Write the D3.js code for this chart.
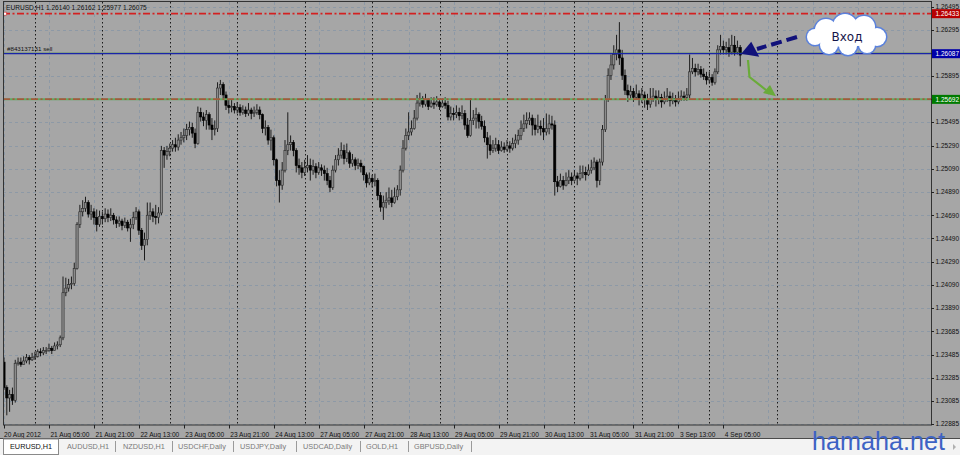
<!DOCTYPE html>
<html><head><meta charset="utf-8">
<script src="https://cdn.jsdelivr.net/npm/d3@7"></script>
<style>
html,body{margin:0;padding:0;background:#f0f0f0;overflow:hidden;}
svg{display:block;font-family:"Liberation Sans",Arial,sans-serif;}
</style>
</head><body>
<svg id="c" width="960" height="455"></svg>
<script>
// ---------------- data ----------------
const symbolName = "EURUSD,H1";
const headerValues = ["1.26140", "1.26162", "1.25977", "1.26075"];
const firstOpen = 1.2342;
const closes = [
1.2320,1.2311,1.2314,1.2309,1.2341,1.2342,1.2340,1.2343,1.2346,1.2344,
1.2346,1.2347,1.2351,1.2350,1.2352,1.2352,1.2354,1.2352,1.2356,1.2357,
1.2363,1.2402,1.2406,1.2409,1.2410,1.2423,1.2461,1.2472,1.2475,1.2480,
1.2470,1.2472,1.2467,1.2461,1.2468,1.2466,1.2470,1.2467,1.2469,1.2465,
1.2462,1.2464,1.2460,1.2463,1.2458,1.2461,1.2467,1.2472,1.2456,1.2443,
1.2448,1.2469,1.2472,1.2468,1.2467,1.2471,1.2525,1.2521,1.2524,1.2527,
1.2530,1.2528,1.2534,1.2536,1.2538,1.2543,1.2545,1.2540,1.2531,1.2558,
1.2554,1.2551,1.2556,1.2547,1.2543,1.2544,1.2579,1.2582,1.2573,1.2564,
1.2562,1.2563,1.2560,1.2562,1.2558,1.2560,1.2557,1.2560,1.2557,1.2558,
1.2560,1.2556,1.2544,1.2545,1.2534,1.2536,1.2517,1.2499,1.2495,1.2508,
1.2525,1.2530,1.2532,1.2525,1.2512,1.2510,1.2506,1.2510,1.2512,1.2508,
1.2511,1.2506,1.2510,1.2508,1.2505,1.2499,1.2493,1.2508,1.2517,1.2521,
1.2525,1.2518,1.2523,1.2514,1.2517,1.2512,1.2514,1.2511,1.2504,1.2497,
1.2501,1.2498,1.2499,1.2486,1.2476,1.2480,1.2482,1.2484,1.2480,1.2485,
1.2491,1.2508,1.2527,1.2538,1.2541,1.2544,1.2553,1.2566,1.2570,1.2565,
1.2569,1.2563,1.2566,1.2565,1.2567,1.2563,1.2566,1.2564,1.2554,1.2557,
1.2556,1.2558,1.2555,1.2557,1.2547,1.2538,1.2551,1.2553,1.2556,1.2550,
1.2546,1.2536,1.2530,1.2525,1.2527,1.2530,1.2525,1.2528,1.2526,1.2529,
1.2527,1.2531,1.2534,1.2538,1.2544,1.2548,1.2551,1.2553,1.2547,1.2543,
1.2546,1.2544,1.2541,1.2544,1.2548,1.2547,1.2498,1.2494,1.2499,1.2495,
1.2499,1.2502,1.2499,1.2503,1.2501,1.2505,1.2506,1.2504,1.2508,1.2510,
1.2515,1.2499,1.2515,1.2543,1.2569,1.2590,1.2599,1.2608,1.2612,1.2605,
1.2590,1.2577,1.2573,1.2576,1.2571,1.2574,1.2569,1.2573,1.2569,1.2565,
1.2570,1.2572,1.2569,1.2571,1.2567,1.2570,1.2572,1.2568,1.2570,1.2567,
1.2570,1.2572,1.2571,1.2573,1.2593,1.2596,1.2593,1.2595,1.2591,1.2589,
1.2586,1.2588,1.2584,1.2593,1.2612,1.2615,1.2612,1.2614,1.2610,1.2616,
1.2610,1.2614,1.26075];
const highs = [
1.2346,1.2322,1.2318,1.2320,1.2344,1.2346,1.2346,1.2347,1.2349,1.2348,
1.2350,1.2351,1.2353,1.2354,1.2355,1.2355,1.2358,1.2356,1.2359,1.2360,
1.2365,1.2416,1.2415,1.2414,1.2416,1.2428,1.2463,1.2478,1.2482,1.2485,
1.2482,1.2478,1.2475,1.2474,1.2473,1.2472,1.2475,1.2474,1.2475,1.2471,
1.2468,1.2468,1.2466,1.2467,1.2465,1.2466,1.2472,1.2476,1.2474,1.2458,
1.2454,1.2480,1.2480,1.2475,1.2478,1.2476,1.2529,1.2528,1.2529,1.2531,
1.2534,1.2536,1.2539,1.2541,1.2544,1.2548,1.2550,1.2549,1.2544,1.2563,
1.2562,1.2558,1.2560,1.2558,1.2553,1.2551,1.2584,1.2586,1.2584,1.2576,
1.2569,1.2569,1.2566,1.2567,1.2565,1.2564,1.2563,1.2566,1.2562,1.2563,
1.2565,1.2563,1.2557,1.2551,1.2547,1.2543,1.2538,1.2518,1.2508,1.2515,
1.2534,1.2558,1.2538,1.2534,1.2527,1.2518,1.2515,1.2517,1.2521,1.2518,
1.2517,1.2514,1.2515,1.2513,1.2512,1.2510,1.2503,1.2512,1.2521,1.2527,
1.2532,1.2530,1.2531,1.2525,1.2522,1.2519,1.2518,1.2517,1.2512,1.2506,
1.2506,1.2504,1.2505,1.2501,1.2489,1.2486,1.2489,1.2493,1.2491,1.2493,
1.2495,1.2512,1.2534,1.2544,1.2558,1.2551,1.2560,1.2573,1.2575,1.2572,
1.2574,1.2570,1.2571,1.2571,1.2572,1.2569,1.2570,1.2571,1.2568,1.2563,
1.2562,1.2564,1.2562,1.2564,1.2560,1.2553,1.2570,1.2560,1.2562,1.2558,
1.2555,1.2551,1.2541,1.2538,1.2534,1.2536,1.2534,1.2533,1.2532,1.2534,
1.2533,1.2536,1.2539,1.2543,1.2551,1.2556,1.2558,1.2558,1.2556,1.2553,
1.2556,1.2551,1.2553,1.2557,1.2556,1.2555,1.2551,1.2503,1.2505,1.2503,
1.2506,1.2508,1.2506,1.2508,1.2506,1.2512,1.2512,1.2511,1.2513,1.2517,
1.2519,1.2517,1.2518,1.2547,1.2573,1.2596,1.2608,1.2616,1.2625,1.2636,
1.2612,1.2595,1.2582,1.2581,1.2579,1.2582,1.2577,1.2579,1.2576,1.2574,
1.2579,1.2579,1.2577,1.2577,1.2574,1.2576,1.2579,1.2576,1.2575,1.2573,
1.2576,1.2577,1.2576,1.2579,1.2608,1.2605,1.2600,1.2600,1.2598,1.2596,
1.2593,1.2593,1.2591,1.2596,1.2616,1.2625,1.2620,1.2619,1.2622,1.2625,
1.2624,1.2620,1.26162];
const lows = [
1.2318,1.2296,1.2299,1.2305,1.2307,1.2339,1.2338,1.2340,1.2341,1.2340,
1.2343,1.2344,1.2346,1.2347,1.2348,1.2349,1.2351,1.2349,1.2352,1.2353,
1.2355,1.2361,1.2399,1.2403,1.2405,1.2408,1.2422,1.2458,1.2468,1.2472,
1.2467,1.2465,1.2461,1.2455,1.2459,1.2461,1.2463,1.2463,1.2464,1.2461,
1.2458,1.2459,1.2456,1.2458,1.2455,1.2446,1.2457,1.2465,1.2452,1.2439,
1.2430,1.2443,1.2465,1.2463,1.2461,1.2462,1.2469,1.2510,1.2517,1.2520,
1.2524,1.2524,1.2525,1.2530,1.2532,1.2534,1.2538,1.2536,1.2527,1.2530,
1.2550,1.2546,1.2543,1.2543,1.2534,1.2538,1.2541,1.2573,1.2569,1.2560,
1.2557,1.2558,1.2557,1.2557,1.2555,1.2556,1.2554,1.2555,1.2552,1.2554,
1.2556,1.2552,1.2540,1.2538,1.2530,1.2525,1.2512,1.2494,1.2480,1.2491,
1.2506,1.2521,1.2525,1.2520,1.2506,1.2504,1.2501,1.2503,1.2506,1.2499,
1.2504,1.2501,1.2504,1.2503,1.2499,1.2495,1.2489,1.2491,1.2506,1.2512,
1.2518,1.2513,1.2515,1.2510,1.2511,1.2508,1.2509,1.2506,1.2499,1.2493,
1.2495,1.2493,1.2494,1.2482,1.2472,1.2465,1.2475,1.2478,1.2476,1.2479,
1.2482,1.2486,1.2506,1.2525,1.2534,1.2538,1.2543,1.2551,1.2563,1.2562,
1.2563,1.2560,1.2562,1.2561,1.2563,1.2560,1.2562,1.2561,1.2551,1.2551,
1.2551,1.2553,1.2551,1.2552,1.2543,1.2536,1.2537,1.2547,1.2544,1.2544,
1.2543,1.2532,1.2518,1.2521,1.2523,1.2524,1.2522,1.2524,1.2523,1.2524,
1.2523,1.2525,1.2527,1.2530,1.2534,1.2541,1.2544,1.2547,1.2538,1.2538,
1.2540,1.2538,1.2534,1.2538,1.2539,1.2543,1.2486,1.2489,1.2493,1.2491,
1.2494,1.2496,1.2495,1.2498,1.2495,1.2499,1.2501,1.2499,1.2503,1.2505,
1.2508,1.2493,1.2495,1.2512,1.2541,1.2567,1.2586,1.2595,1.2603,1.2599,
1.2586,1.2573,1.2567,1.2570,1.2567,1.2569,1.2564,1.2566,1.2562,1.2560,
1.2562,1.2567,1.2563,1.2565,1.2562,1.2565,1.2567,1.2563,1.2565,1.2563,
1.2565,1.2568,1.2568,1.2568,1.2570,1.2591,1.2589,1.2590,1.2588,1.2586,
1.2582,1.2583,1.2581,1.2582,1.2591,1.2608,1.2608,1.2608,1.2606,1.2608,
1.2607,1.2608,1.25977];
const timeLabels = ["20 Aug 2012","21 Aug 05:00","21 Aug 21:00","22 Aug 13:00","23 Aug 05:00",
  "23 Aug 21:00","24 Aug 13:00","27 Aug 05:00","27 Aug 21:00","28 Aug 13:00","29 Aug 05:00",
  "29 Aug 21:00","30 Aug 13:00","31 Aug 05:00","31 Aug 21:00","3 Sep 13:00","4 Sep 05:00"];
const labelBars = [0,16,32,48,64,80,96,112,128,144,160,176,192,208,224,240,256];
const gridBars = [0,16,32,48,64,80,96,112,128,144,160,176,192,208,224,240,256,272,288,304,320];
const daySeparatorBars = [11,35,59,83,107,131,155,179,203,227,251,275];
const priceTicks = [1.26495,1.26295,1.26095,1.25895,1.25695,1.25495,1.25290,1.25090,1.24890,
  1.24690,1.24490,1.24290,1.24090,1.23890,1.23685,1.23485,1.23285,1.23085,1.22885];
const stopLevel = 1.26433;
const entryLevel = 1.26087;
const takeLevel = 1.25692;
const orderText = "#843137131 sell";
const entryNote = "Вход";
const tabNames = ["EURUSD,H1","AUDUSD,H1","NZDUSD,H1","USDCHF,Daily","USDJPY,Daily","USDCAD,Daily","GOLD,H1","GBPUSD,Daily"];
const watermark = "hamaha.net";

// ---------------- layout ----------------
const W = 960, H = 455;
const plot = {l: 3, r: 931, t: 2, b: 425};
const BG = "#a6a6a6";
const svg = d3.select("#c");

const x = d3.scaleLinear().domain([0, 262]).range([4, 4 + 262 * 2.81]);
const y = d3.scaleLinear().domain([1.22885, 1.26495]).range([424, 6.5]);

svg.append("rect").attr("width", W).attr("height", H).attr("fill", "#f3f3f3");
svg.append("rect").attr("x", 0).attr("y", 0).attr("width", W).attr("height", 438).attr("fill", BG);

const clipId = "plotclip";
svg.append("clipPath").attr("id", clipId).append("rect")
  .attr("x", plot.l).attr("y", plot.t).attr("width", plot.r - plot.l).attr("height", plot.b - plot.t);
const g = svg.append("g").attr("clip-path", `url(#${clipId})`);

// grid: horizontal dashed
g.selectAll("line.hg").data(priceTicks).join("line")
  .attr("x1", plot.l).attr("x2", plot.r)
  .attr("y1", d => Math.round(y(d)) + 0.5).attr("y2", d => Math.round(y(d)) + 0.5)
  .attr("stroke", "#8d99a6").attr("stroke-width", 1).attr("stroke-dasharray", "3,3");
// grid: vertical dashed
g.selectAll("line.vg").data(gridBars).join("line")
  .attr("x1", d => Math.round(x(d)) + 0.5).attr("x2", d => Math.round(x(d)) + 0.5)
  .attr("y1", plot.t).attr("y2", plot.b)
  .attr("stroke", "#8d99a6").attr("stroke-width", 1).attr("stroke-dasharray", "3,3");
// period separators (dotted black)
g.selectAll("line.sep").data(daySeparatorBars).join("line")
  .attr("x1", d => Math.round(x(d)) + 0.5).attr("x2", d => Math.round(x(d)) + 0.5)
  .attr("y1", plot.t).attr("y2", plot.b)
  .attr("stroke", "#1a1a1a").attr("stroke-width", 1).attr("stroke-dasharray", "1.5,2.5");

// candles
const bars = closes.map((c, i) => {
  const o = i === 0 ? firstOpen : closes[i - 1];
  return {i, o, c, h: Math.max(highs[i], o, c), l: Math.min(lows[i], o, c)};
});
const cg = g.append("g");
cg.selectAll("line.wick").data(bars).join("line")
  .attr("x1", d => x(d.i)).attr("x2", d => x(d.i))
  .attr("y1", d => y(d.h)).attr("y2", d => y(d.l))
  .attr("stroke", "#1c1c1c").attr("stroke-width", 1);
cg.selectAll("rect.body").data(bars).join("rect")
  .attr("x", d => x(d.i) - 1.1).attr("width", 2.2)
  .attr("y", d => y(Math.max(d.o, d.c)))
  .attr("height", d => Math.max(0.8, Math.abs(y(d.o) - y(d.c))))
  .attr("fill", d => d.c < d.o ? "#000" : "#8c8c8c")
  .attr("stroke", d => d.c < d.o ? "#000" : "#2a2a2a")
  .attr("stroke-width", 0.6);

// stop (red dash-dot)
g.append("line").attr("x1", plot.l).attr("x2", plot.r)
  .attr("y1", y(stopLevel)).attr("y2", y(stopLevel))
  .attr("stroke", "#d42020").attr("stroke-width", 1.6).attr("stroke-dasharray", "7,2.5,2,2.5");
g.append("rect").attr("x", 3.5).attr("y", y(stopLevel) - 1.5).attr("width", 3).attr("height", 3)
  .attr("fill", "#fff").attr("stroke", "#d42020").attr("stroke-width", 0.6);
// entry (blue, thin green shadow)
g.append("line").attr("x1", plot.l).attr("x2", plot.r)
  .attr("y1", y(entryLevel) - 1).attr("y2", y(entryLevel) - 1)
  .attr("stroke", "#3c8a3c").attr("stroke-width", 0.6).attr("stroke-opacity", 0.6);
g.append("line").attr("x1", plot.l).attr("x2", plot.r)
  .attr("y1", y(entryLevel)).attr("y2", y(entryLevel))
  .attr("stroke", "#1a24a8").attr("stroke-width", 1.2);
// take profit (green + red dash-dot)
g.append("line").attr("x1", plot.l).attr("x2", plot.r)
  .attr("y1", y(takeLevel)).attr("y2", y(takeLevel))
  .attr("stroke", "#5fa85f").attr("stroke-width", 2);
g.append("line").attr("x1", plot.l).attr("x2", plot.r)
  .attr("y1", y(takeLevel) - 0.3).attr("y2", y(takeLevel) - 0.3)
  .attr("stroke", "#d42020").attr("stroke-width", 1).attr("stroke-dasharray", "7,2.5,2,2.5");

svg.append("text").attr("x", 6).attr("y", 10).attr("font-size", 6.6).attr("fill", "#111")
  .text(symbolName + "  " + headerValues.join(" "));
svg.append("text").attr("x", 7).attr("y", y(entryLevel) - 2.5).attr("font-size", 6.2).attr("fill", "#111")
  .text(orderText);

// frame
svg.append("rect").attr("x", plot.l + 0.5).attr("y", plot.t - 0.5).attr("width", plot.r - plot.l)
  .attr("height", plot.b - plot.t + 0.5).attr("fill", "none").attr("stroke", "#333").attr("stroke-width", 1);

// right price axis
const ra = svg.append("g");
ra.selectAll("line").data(priceTicks).join("line")
  .attr("x1", plot.r).attr("x2", plot.r + 3)
  .attr("y1", d => Math.round(y(d)) + 0.5).attr("y2", d => Math.round(y(d)) + 0.5)
  .attr("stroke", "#222");
ra.selectAll("text").data(priceTicks).join("text")
  .attr("x", plot.r + 4.5).attr("y", d => y(d) + 2.3)
  .attr("font-size", 6.5).attr("fill", "#111")
  .text(d => d.toFixed(5));

const boxes = [[stopLevel, "#b80000"], [entryLevel, "#0000a8"], [takeLevel, "#007a00"]];
boxes.forEach(([v, col]) => {
  svg.append("rect").attr("x", plot.r + 1).attr("y", y(v) - 4.5).attr("width", W - plot.r - 1).attr("height", 9)
    .attr("fill", col);
  svg.append("text").attr("x", plot.r + 4.5).attr("y", y(v) + 2.3).attr("font-size", 6.5)
    .attr("fill", "#fff").text(v.toFixed(5));
});

// bottom time axis
const ba = svg.append("g");
ba.selectAll("line").data(labelBars).join("line")
  .attr("x1", d => Math.round(x(d)) + 0.5).attr("x2", d => Math.round(x(d)) + 0.5)
  .attr("y1", plot.b).attr("y2", plot.b + 3.5).attr("stroke", "#222");
ba.selectAll("text").data(labelBars).join("text")
  .attr("x", (d, i) => i === 0 ? 4 : x(d) + 1.5).attr("y", 436.5)
  .attr("font-size", 6.6).attr("fill", "#111")
  .text((d, i) => timeLabels[i]);

svg.append("line").attr("x1", 0).attr("x2", W).attr("y1", 438.5).attr("y2", 438.5)
  .attr("stroke", "#4a4a4a").attr("stroke-width", 1);

// tabs
const tabX = [10, 67, 123, 178, 240, 303, 366, 414];
const sepX = [115, 172, 233, 296, 360, 408, 471];
svg.append("rect").attr("x", 3.5).attr("y", 439).attr("width", 55).attr("height", 15.5)
  .attr("fill", "#fff").attr("stroke", "#8a8a8a").attr("stroke-width", 1);
svg.selectAll("text.tab").data(tabNames).join("text")
  .attr("x", (d, i) => tabX[i]).attr("y", 449)
  .attr("font-size", 7.3).attr("fill", (d, i) => i === 0 ? "#111" : "#7a7a7a")
  .text(d => d);
svg.selectAll("line.tsep").data(sepX).join("line")
  .attr("x1", d => d + 0.5).attr("x2", d => d + 0.5).attr("y1", 441).attr("y2", 452)
  .attr("stroke", "#9a9a9a");
svg.append("path").attr("d", "M953,444 L956,447 L953,450 Z").attr("fill", "#b0b0b0");

// cloud
const cloud = svg.append("g");
const circles = [[826,30,11],[845,26,12],[864,27,11],[877,37,9],[867,45,8],[848,46,9],[829,45,9],[815,37,8]];
cloud.selectAll("circle.o").data(circles).join("circle")
  .attr("cx", d => d[0]).attr("cy", d => d[1]).attr("r", d => d[2])
  .attr("fill", "#fff").attr("stroke", "#5b82dc").attr("stroke-width", 3);
cloud.selectAll("circle.i").data(circles).join("circle")
  .attr("cx", d => d[0]).attr("cy", d => d[1]).attr("r", d => d[2])
  .attr("fill", "#fff");
cloud.append("ellipse").attr("cx", 846).attr("cy", 37).attr("rx", 27).attr("ry", 10).attr("fill", "#fff");
cloud.append("text").attr("x", 847).attr("y", 40.5).attr("text-anchor", "middle")
  .attr("font-family", "DejaVu Sans").attr("font-size", 12).attr("fill", "#15154a").text(entryNote);

// dashed navy arrow to entry point
const tipX = x(262), tipY = y(entryLevel);
svg.append("line").attr("x1", 797).attr("y1", 37).attr("x2", 757).attr("y2", 49)
  .attr("stroke", "#11117a").attr("stroke-width", 4).attr("stroke-dasharray", "11,5");
svg.append("path")
  .attr("d", `M${tipX + 1},${tipY} L${tipX + 11},${tipY - 12} L${tipX + 19},${tipY + 3} Z`)
  .attr("fill", "#11117a");

// green arrow towards take profit
svg.append("path").attr("d", `M748,60 L749.5,77 L766,90`)
  .attr("fill", "none").attr("stroke", "#6aab3a").attr("stroke-width", 2.2);
svg.append("path").attr("d", `M776,${y(takeLevel) - 3} L763,93 L770,85 Z`).attr("fill", "#6aab3a");

// watermark
svg.append("text").attr("x", 812).attr("y", 449.5).attr("font-size", 26)
  .attr("textLength", 133).attr("lengthAdjust", "spacingAndGlyphs")
  .attr("fill", "#3d62c4").text(watermark);
</script>
</body></html>
